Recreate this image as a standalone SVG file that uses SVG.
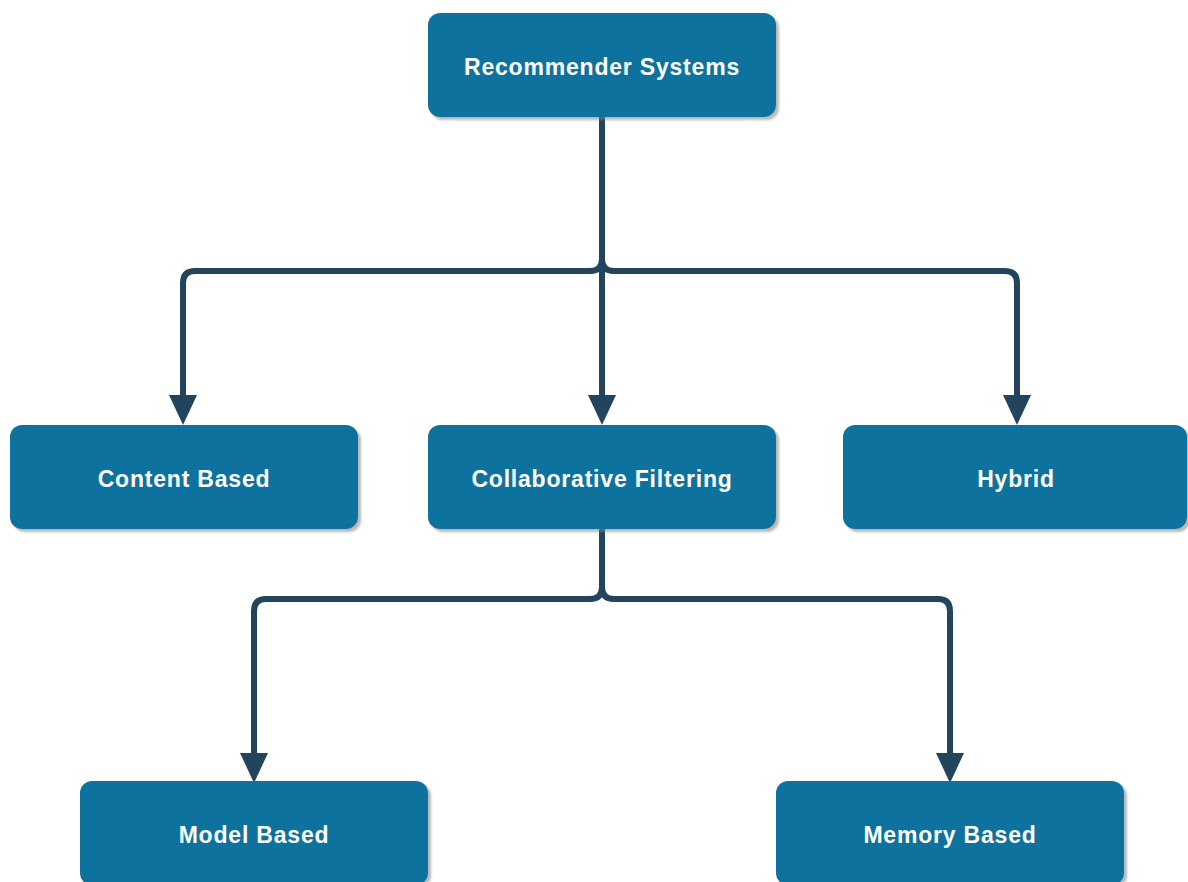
<svg xmlns="http://www.w3.org/2000/svg" width="1188" height="882" viewBox="0 0 1188 882">
  <style>
    .box { fill: #10739E; filter: url(#shadow); }
    .label { fill: #FFFFFF; font-family: "Liberation Sans", Arial, sans-serif; font-weight: bold; font-size: 23px; letter-spacing: 0.8px; text-anchor: middle; }
    .edge { fill: none; stroke: #23445D; stroke-width: 6; stroke-linejoin: round; marker-end: url(#arrow); }
  </style>
  <defs>
    <filter id="shadow" x="-10%" y="-10%" width="130%" height="140%">
      <feDropShadow dx="3" dy="3" stdDeviation="1.2" flood-color="#808080" flood-opacity="0.55"/>
    </filter>
    <marker id="arrow" markerUnits="userSpaceOnUse" markerWidth="32" markerHeight="30" refX="2" refY="14" orient="auto" viewBox="0 0 32 28">
      <path d="M0,0 L30,14 L0,28 Z" fill="#23445D"/>
    </marker>
  </defs>

  <rect width="1188" height="882" fill="#FFFFFF"/>

  <!-- connectors -->
  <g id="connectors">
    <path class="edge" d="M602,117 V259 Q602,271 590,271 H195 Q183,271 183,283 V397"/>
    <path class="edge" d="M602,117 V397"/>
    <path class="edge" d="M602,117 V259 Q602,271 614,271 H1005 Q1017,271 1017,283 V397"/>
    <path class="edge" d="M602,529 V587 Q602,599 590,599 H266 Q254,599 254,611 V755"/>
    <path class="edge" d="M602,529 V587 Q602,599 614,599 H938 Q950,599 950,611 V755"/>
  </g>

  <!-- nodes -->
  <g id="recommender-systems">
    <rect class="box" x="428" y="13" width="348" height="104" rx="12"/>
    <text class="label" x="602" y="75">Recommender Systems</text>
  </g>
  <g id="content-based">
    <rect class="box" x="10" y="425" width="348" height="104" rx="12"/>
    <text class="label" x="184" y="487">Content Based</text>
  </g>
  <g id="collaborative-filtering">
    <rect class="box" x="428" y="425" width="348" height="104" rx="12"/>
    <text class="label" x="602" y="487">Collaborative Filtering</text>
  </g>
  <g id="hybrid">
    <rect class="box" x="843" y="425" width="344" height="104" rx="12"/>
    <text class="label" x="1016" y="487">Hybrid</text>
  </g>
  <g id="model-based">
    <rect class="box" x="80" y="781" width="348" height="104" rx="12"/>
    <text class="label" x="254" y="843">Model Based</text>
  </g>
  <g id="memory-based">
    <rect class="box" x="776" y="781" width="348" height="104" rx="12"/>
    <text class="label" x="950" y="843">Memory Based</text>
  </g>
</svg>
